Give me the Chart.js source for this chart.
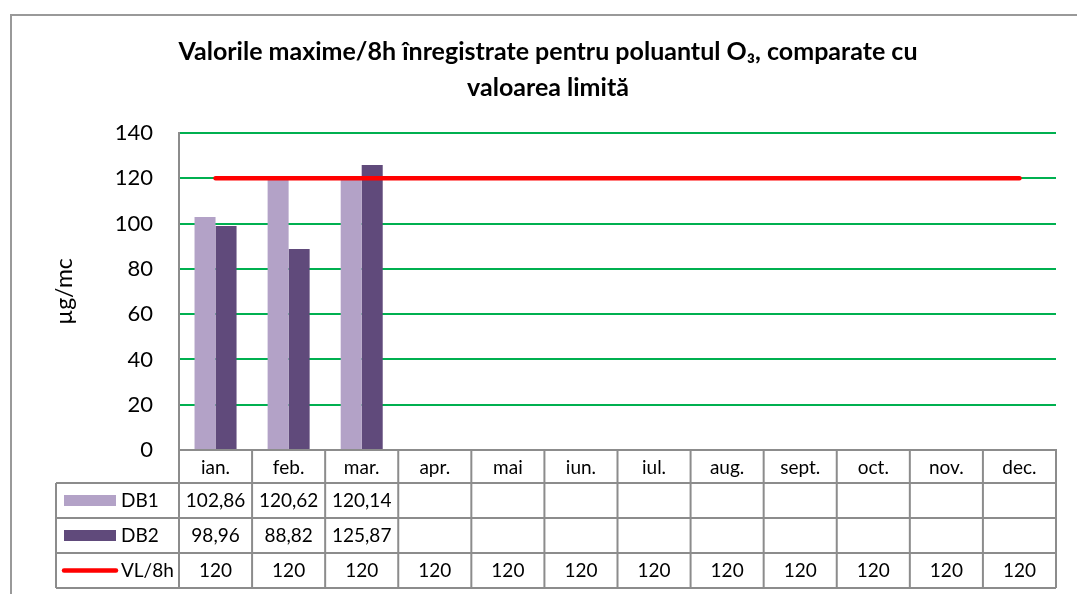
<!DOCTYPE html>
<html><head><meta charset="utf-8">
<script src="https://cdn.jsdelivr.net/npm/chart.js@4.4.0/dist/chart.umd.min.js"></script>
<style>
html,body{margin:0;padding:0;background:#fff;overflow:hidden;width:1077px;height:594px}
#frame{position:absolute;left:10px;top:14px;width:1100px;height:640px;border:2px solid #999;box-sizing:border-box}
#wrap{position:absolute;left:0;top:0;width:1077px;height:594px}
</style></head><body>
<div id="frame"></div>
<div id="wrap"><canvas id="c" width="1077" height="594"></canvas></div>
<script>
// ---- data ----
const months = ['ian.','feb.','mar.','apr.','mai','iun.','iul.','aug.','sept.','oct.','nov.','dec.'];
const db1 = [102.86,120.62,120.14,null,null,null,null,null,null,null,null,null];
const db2 = [98.96,88.82,125.87,null,null,null,null,null,null,null,null,null];
const vl  = [120,120,120,120,120,120,120,120,120,120,120,120];
const seriesNames = ['DB1','DB2','VL/8h'];
const yTicks = [0,20,40,60,80,100,120,140];
const titleLines = ['Valorile maxime/8h înregistrate pentru poluantul O₃, comparate cu','valoarea limită'];
const yTitle = 'µg/mc';

// ---- styles ----
const C_DB1 = '#b3a2c7', C_DB2 = '#604a7b', C_VL = '#ff0000';
const GRID = '#00b050', AXIS = '#8c8c8c';
const FONT = 'Lato';
const HEADER_H = 33, ROW_H = 35, LEGEND_LEFT = 56;

const fmt = v => v === null || v === undefined ? '' : String(v).replace('.', ',');

const tablePlugin = {
  id: 'dataTable',
  afterDraw(chart) {
    const ctx = chart.ctx, x = chart.scales.x, area = chart.chartArea;
    const n = months.length;
    const top = area.bottom;
    const rowsTop = top + HEADER_H;
    const bottom = rowsTop + ROW_H * 3;
    const bounds = [];
    for (let i = 0; i <= n; i++) bounds.push(x.getPixelForValue(i - 0.5));
    ctx.save();
    ctx.strokeStyle = AXIS; ctx.lineWidth = 2;
    ctx.beginPath();
    bounds.forEach(b => { ctx.moveTo(b, top); ctx.lineTo(b, bottom); });
    ctx.moveTo(LEGEND_LEFT, rowsTop); ctx.lineTo(LEGEND_LEFT, bottom);
    ctx.moveTo(bounds[0], top); ctx.lineTo(bounds[n], top);
    for (let r = 0; r <= 3; r++) {
      const yy = rowsTop + r * ROW_H;
      ctx.moveTo(LEGEND_LEFT, yy); ctx.lineTo(bounds[n], yy);
    }
    ctx.stroke();

    const rows = [db1, db2, vl];
    ctx.font = '19px ' + FONT;
    ctx.textBaseline = 'middle';
    rows.forEach((arr, r) => {
      const cy = rowsTop + r * ROW_H + ROW_H / 2;
      if (r < 2) {
        ctx.fillStyle = r === 0 ? C_DB1 : C_DB2;
        ctx.fillRect(64, cy - 5.5, 52, 11);
      } else {
        ctx.strokeStyle = C_VL; ctx.lineWidth = 4.5; ctx.lineCap = 'round';
        ctx.beginPath(); ctx.moveTo(64, cy); ctx.lineTo(116, cy); ctx.stroke();
      }
      ctx.fillStyle = '#000';
      ctx.textAlign = 'left';
      ctx.fillText(seriesNames[r], 121, cy);
      ctx.textAlign = 'center';
      arr.forEach((v, i) => {
        ctx.fillText(fmt(v), x.getPixelForValue(i), cy);
      });
    });
    ctx.restore();
  }
};

new Chart(document.getElementById('c'), {
  type: 'bar',
  data: {
    labels: months,
    datasets: [
      { label: seriesNames[0], data: db1, backgroundColor: C_DB1, order: 1,
        categoryPercentage: 0.575, barPercentage: 1.0 },
      { label: seriesNames[1], data: db2, backgroundColor: C_DB2, order: 1,
        categoryPercentage: 0.575, barPercentage: 1.0 },
      { type: 'line', label: seriesNames[2], data: vl, borderColor: C_VL, backgroundColor: C_VL,
        borderWidth: 4.5, pointRadius: 0, borderCapStyle: 'round', order: 0, tension: 0 }
    ]
  },
  options: {
    responsive: false,
    animation: false,
    devicePixelRatio: 1,
    layout: { padding: { left: 40, right: 21, top: 0, bottom: 6 } },
    plugins: {
      legend: { display: false },
      tooltip: { enabled: false },
      title: {
        display: true, text: titleLines, color: '#000',
        font: { family: FONT, size: 25, weight: 'bold', lineHeight: 1.44 },
        padding: { top: 34, bottom: 27 }
      }
    },
    scales: {
      x: {
        offset: true,
        grid: { display: false, drawTicks: false },
        border: { display: true, color: AXIS, width: 2 },
        ticks: { color: '#000', font: { family: FONT, size: 19 }, padding: 6, maxRotation: 0, autoSkip: false },
        afterFit(s) { s.height = HEADER_H + ROW_H * 3; }
      },
      y: {
        min: 0, max: 140,
        afterBuildTicks(s) { s.ticks = yTicks.map(v => ({ value: v })); },
        ticks: { color: '#000', font: { family: FONT, size: 22 }, padding: 26 },
        grid: { color: c => (c.tick && c.tick.value === 0) ? 'rgba(0,0,0,0)' : GRID, lineWidth: 2, drawTicks: false },
        border: { display: true, color: AXIS, width: 2 },
        title: { display: true, text: yTitle, color: '#000', font: { family: FONT, size: 23 }, padding: { top: 11, bottom: 0 } },
        afterFit(s) { s.width = 139; }
      }
    }
  },
  plugins: [tablePlugin]
});
</script>
</body></html>
